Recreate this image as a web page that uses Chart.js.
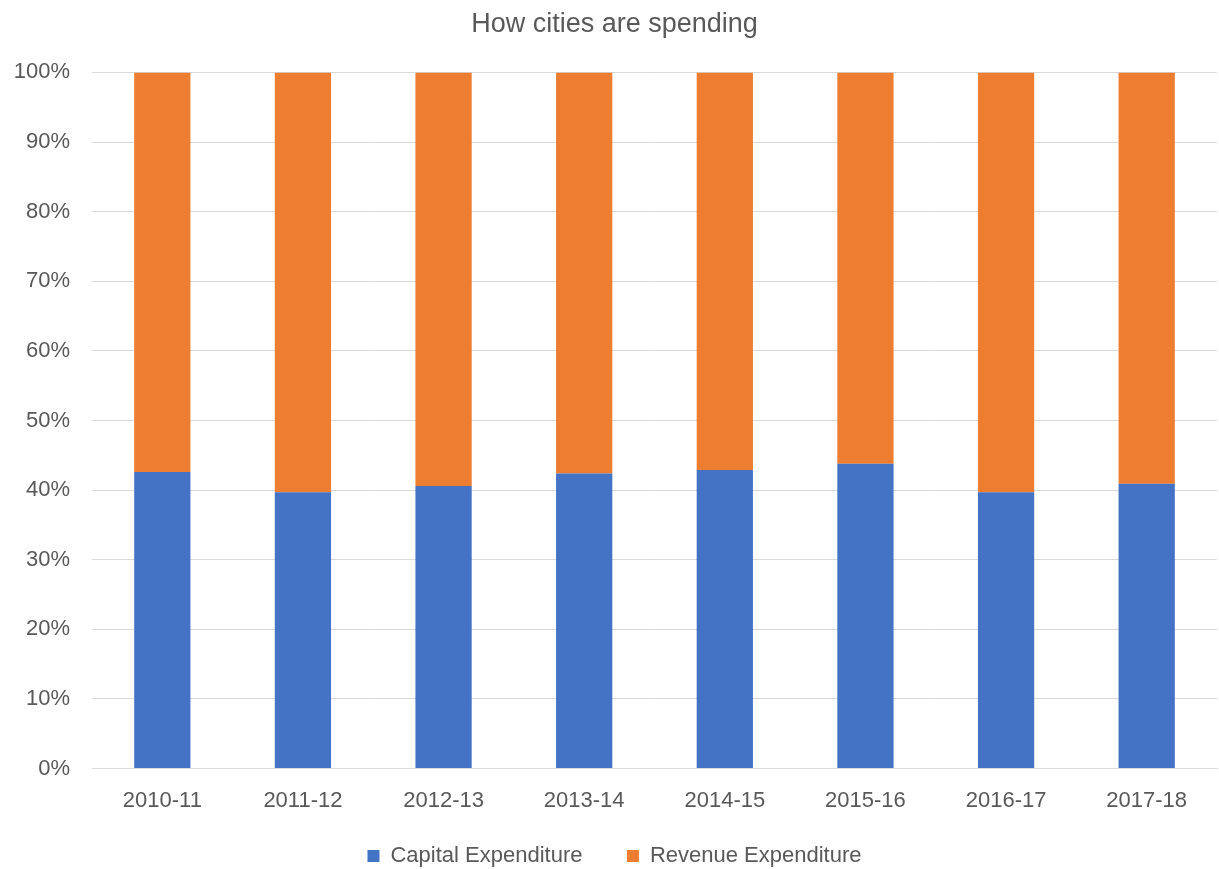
<!DOCTYPE html>
<html>
<head>
<meta charset="utf-8">
<title>How cities are spending</title>
<script src="https://cdn.jsdelivr.net/npm/chart.js@4/dist/chart.umd.min.js"></script>
<style>
    html, body { margin: 0; padding: 0; background: #fff; }
    #wrap { width: 1219px; height: 869px; }
</style>
</head>
<body>
<div id="wrap"><canvas id="spendChart"></canvas></div>
<script>
// Share of spending per financial year (%)
const years = ['2010-11', '2011-12', '2012-13', '2013-14', '2014-15', '2015-16', '2016-17', '2017-18'];
const capital = [42.6, 39.7, 40.6, 42.4, 42.9, 43.8, 39.7, 40.9];
const revenue = [57.4, 60.3, 59.4, 57.6, 57.1, 56.2, 60.3, 59.1];
const yTicks = [0, 10, 20, 30, 40, 50, 60, 70, 80, 90, 100];

const textColor = '#595959';
const fontFamily = '"Liberation Sans", Arial, sans-serif';

function initChart() {
    const ctx = document.getElementById('spendChart').getContext('2d');

    new Chart(ctx, {
        type: 'bar',
        data: {
            labels: years,
            datasets: [
                {
                    label: 'Capital Expenditure',
                    data: capital,
                    backgroundColor: '#4472C4',
                    barPercentage: 0.4,
                    categoryPercentage: 1
                },
                {
                    label: 'Revenue Expenditure',
                    data: revenue,
                    backgroundColor: '#ED7D31',
                    barPercentage: 0.4,
                    categoryPercentage: 1
                }
            ]
        },
        options: {
            responsive: true,
            maintainAspectRatio: false,
            animation: false,
            layout: {
                padding: { left: 12, right: 2, top: 0, bottom: -8 }
            },
            plugins: {
                title: {
                    display: true,
                    text: 'How cities are spending',
                    color: textColor,
                    font: { family: fontFamily, size: 27, weight: 'normal' },
                    padding: { top: 8, bottom: 32 }
                },
                legend: {
                    position: 'bottom',
                    labels: {
                        color: textColor,
                        font: { family: fontFamily, size: 22 },
                        boxWidth: 12,
                        boxHeight: 12,
                        padding: 20,
                        // keep a wider gap between the two entries
                        generateLabels: function(chart) {
                            const items = Chart.defaults.plugins.legend.labels.generateLabels(chart);
                            items[0].text = items[0].text + '    ';
                            return items;
                        }
                    }
                },
                tooltip: { enabled: false }
            },
            scales: {
                x: {
                    stacked: true,
                    grid: { display: false },
                    border: { color: '#D9D9D9', width: 1 },
                    ticks: {
                        color: textColor,
                        font: { family: fontFamily, size: 22 },
                        padding: 11,
                        maxRotation: 0
                    }
                },
                y: {
                    stacked: true,
                    min: 0,
                    max: 100,
                    afterBuildTicks: function(axis) {
                        axis.ticks = yTicks.map(v => ({ value: v }));
                    },
                    afterFit: function(axis) {
                        axis.width = 80;
                    },
                    grid: { color: '#D9D9D9', drawTicks: false },
                    border: { display: false },
                    ticks: {
                        color: textColor,
                        font: { family: fontFamily, size: 22 },
                        padding: 22,
                        callback: v => v + '%'
                    }
                }
            }
        }
    });
}

document.addEventListener('DOMContentLoaded', initChart);
</script>
</body>
</html>
